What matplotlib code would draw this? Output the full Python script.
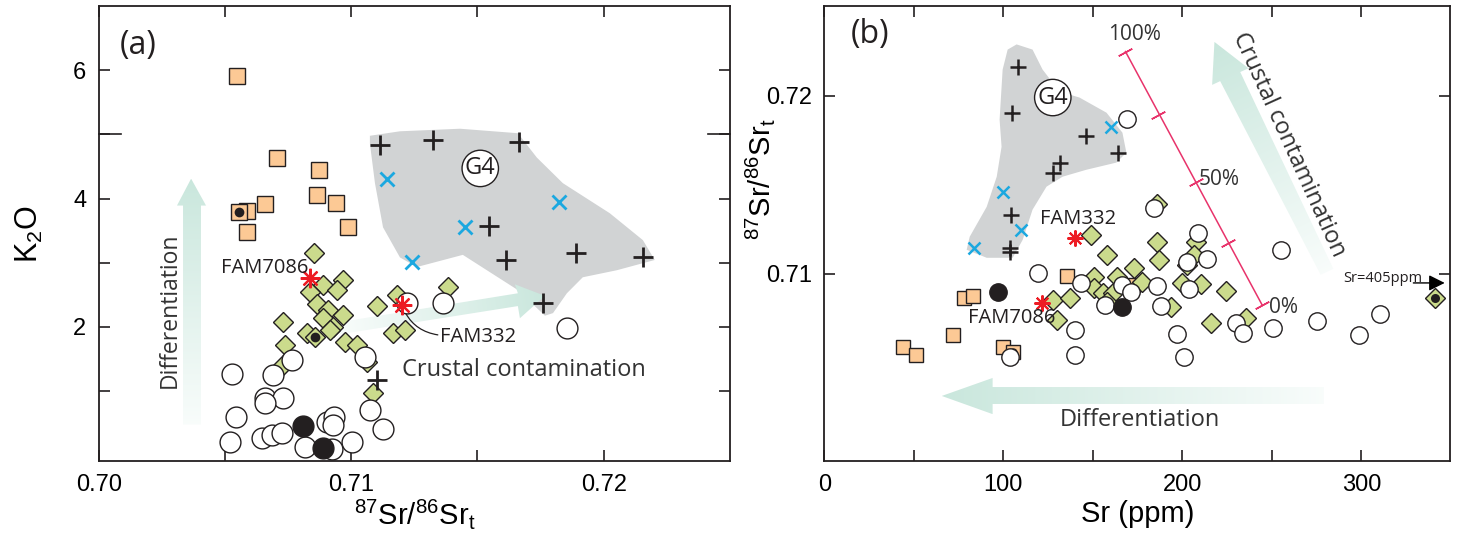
import numpy as np
import matplotlib
matplotlib.use('Agg')
import matplotlib.pyplot as plt
from matplotlib.patches import Polygon
import matplotlib.transforms as mtransforms

plt.rcParams['mathtext.fontset'] = 'custom'
plt.rcParams['mathtext.rm'] = 'Liberation Sans'
plt.rcParams['mathtext.it'] = 'Liberation Sans:italic'
plt.rcParams['mathtext.bf'] = 'Liberation Sans:bold'

AX_FONT = ['Liberation Sans', 'DejaVu Sans']
TXT_FONT = ['Open Sans', 'DejaVu Sans']

# ---------------- Panel (a): K2O vs 87Sr/86Sr_t ----------------
a_sq_x = [0.70548, 0.70706, 0.70872, 0.70864, 0.70939, 0.70987, 0.70659, 0.70587, 0.70555, 0.70587]
a_sq_y = [5.92, 4.64, 4.44, 4.05, 3.93, 3.55, 3.91, 3.80, 3.79, 3.47]
a_sqdot_x = [0.70555]
a_sqdot_y = [3.79]

a_dia_x = [0.70853, 0.70888, 0.70967, 0.70943, 0.70837, 0.70864, 0.70908, 0.70967, 0.70888,
           0.70928, 0.70916, 0.70825, 0.70856, 0.70730, 0.70738, 0.70975, 0.71023, 0.71102,
           0.71062, 0.70730, 0.71086, 0.71181, 0.71165, 0.71213, 0.71383]
a_dia_y = [3.15, 2.65, 2.73, 2.57, 2.54, 2.35, 2.26, 2.18, 2.13, 1.99, 1.95, 1.90, 1.84, 2.07,
           1.71, 1.76, 1.71, 2.32, 1.45, 1.40, 0.97, 2.49, 1.90, 1.95, 2.62]
a_diadot_x = [0.70856]
a_diadot_y = [1.84]

a_cir_x = [0.70765, 0.70528, 0.70690, 0.71054, 0.70658, 0.70730, 0.70658, 0.70544, 0.71074,
           0.71126, 0.70520, 0.70646, 0.70686, 0.70725, 0.70904, 0.70932, 0.70928, 0.71003,
           0.70817, 0.70924, 0.71220, 0.71363, 0.71854]
a_cir_y = [1.48, 1.26, 1.25, 1.53, 0.89, 0.89, 0.81, 0.58, 0.70, 0.40, 0.20, 0.26, 0.31, 0.34,
           0.51, 0.59, 0.47, 0.19, 0.12, 0.08, 2.37, 2.37, 1.98]

a_blk_x = [0.70809, 0.70888]
a_blk_y = [0.44, 0.11]

a_plus_x = [0.71114, 0.71324, 0.71665, 0.71545, 0.71612, 0.71890, 0.72155, 0.71759, 0.71102]
a_plus_y = [4.83, 4.91, 4.88, 3.57, 3.04, 3.15, 3.08, 2.37, 1.17]

a_x_x = [0.71141, 0.71450, 0.71240, 0.71822]
a_x_y = [4.31, 3.55, 3.01, 3.94]

a_star_x = [0.70837, 0.71201]
a_star_y = [2.76, 2.34]
a_star_lab = ['FAM7086', 'FAM332']

a_g4_x = [0.71074, 0.71193, 0.71431, 0.71660, 0.71735, 0.71838, 0.72024, 0.72155, 0.72202,
          0.72052, 0.71917, 0.71854, 0.71799, 0.71767, 0.71660, 0.71442, 0.71260, 0.71193,
          0.71126, 0.71094, 0.71074]
a_g4_y = [4.98, 5.05, 5.09, 5.02, 4.64, 4.24, 3.77, 3.35, 3.04, 2.88, 2.77, 2.52, 2.21, 2.17,
          2.57, 3.12, 2.93, 3.08, 3.55, 4.24, 4.86]

a_xticks = [0.70, 0.71, 0.72]
a_xtick_labels = ['0.70', '0.71', '0.72']
a_xminor = [0.705, 0.715]
a_yticks = [2, 4, 6]
a_yminor = [1, 3, 5]

# ---------------- Panel (b): 87Sr/86Sr_t vs Sr ----------------
b_sq_x = [77.9, 82.9, 71.7, 43.8, 51.1, 99.6, 105.2, 135.8, 172.6]
b_sq_y = [0.70865, 0.70876, 0.70657, 0.70590, 0.70545, 0.70590, 0.70562, 0.70989, 0.70938]
b_sqdot_x = [105.2]
b_sqdot_y = [0.70562]

b_dia_x = [185.9, 149.2, 158.1, 185.9, 187.0, 207.8, 206.7, 202.8, 173.2, 150.9, 163.7, 177.7,
           200.0, 210.5, 224.5, 150.9, 155.4, 161.0, 158.1, 127.5, 137.0, 129.7, 193.8, 216.1,
           235.6, 341.1]
b_dia_y = [0.71393, 0.71219, 0.71107, 0.71180, 0.71079, 0.71180, 0.71107, 0.71051, 0.71034,
           0.70983, 0.70983, 0.70955, 0.70949, 0.70944, 0.70904, 0.70921, 0.70893, 0.70893,
           0.70843, 0.70854, 0.70865, 0.70742, 0.70815, 0.70725, 0.70753, 0.70865]
b_diadot_x = [341.1]
b_diadot_y = [0.70865]

b_cir_x = [184.3, 208.8, 213.8, 202.7, 255.0, 119.1, 143.6, 166.5, 171.5, 186.0, 203.8, 156.5,
           188.3, 139.8, 197.2, 229.9, 233.8, 250.6, 275.1, 298.5, 310.2, 139.8, 201.1, 103.5,
           169.3]
b_cir_y = [0.71371, 0.71230, 0.71084, 0.71067, 0.71135, 0.71006, 0.70949, 0.70938, 0.70899,
           0.70933, 0.70916, 0.70826, 0.70820, 0.70685, 0.70663, 0.70725, 0.70669, 0.70697,
           0.70736, 0.70657, 0.70775, 0.70545, 0.70534, 0.70534, 0.71871]

b_blk_x = [96.9, 166.0]
b_blk_y = [0.70899, 0.70815]

b_plus_x = [108.0, 104.6, 146.4, 163.8, 131.9, 127.5, 104.1, 103.5, 103.5]
b_plus_y = [0.72163, 0.71904, 0.71775, 0.71680, 0.71624, 0.71567, 0.71331, 0.71146, 0.71124]

b_x_x = [160.3, 99.6, 109.6, 83.4]
b_x_y = [0.71826, 0.71461, 0.71247, 0.71146]

b_star_x = [139.8, 121.4]
b_star_y = [0.71202, 0.70837]

b_g4_x = [107.4, 116.3, 121.9, 131.4, 142.5, 157.6, 166.5, 168.7, 163.1, 146.4, 133.1, 124.1,
          116.3, 110.8, 105.2, 90.7, 79.5, 81.2, 90.7, 96.3, 99.0, 97.9, 99.6, 102.4]
b_g4_y = [0.72287, 0.72258, 0.72146, 0.72022, 0.71989, 0.71904, 0.71792, 0.71680, 0.71624,
          0.71584, 0.71545, 0.71489, 0.71360, 0.71191, 0.71090, 0.71090, 0.71135, 0.71208,
          0.71376, 0.71545, 0.71713, 0.71865, 0.72146, 0.72258]

# mixing line ticks (100%, 75%, 50%, 25%, 0%)
b_mix_x = [168.2, 186.6, 207.8, 225.6, 244.5]
b_mix_y = [0.72247, 0.71893, 0.71517, 0.71174, 0.70826]

b_xticks = [0, 100, 200, 300]
b_xminor = [50, 150, 250, 350]
b_yticks = [0.71, 0.72]
b_ytick_labels = ['0.71', '0.72']

# ---------------- colours ----------------
C_SQ = '#FCC995'
C_DIA = '#CBDB8C'
C_EDGE = '#231F20'
C_BLK = '#231F20'
C_RED = '#ED1C24'
C_CYAN = '#1BA8E0'
C_G4 = '#D1D3D4'
C_PINK = '#E8336B'
C_HEAD = (0.79, 0.905, 0.865)
C_TAIL = (0.975, 0.99, 0.985)
C_TXT = '#333333'

fig = plt.figure(figsize=(14.6, 5.37), dpi=100)
axa = fig.add_axes([0.0676, 0.1415, 0.4324, 0.8465])
axb = fig.add_axes([0.5646, 0.1415, 0.4286, 0.8465])

axa.set_xlim(0.70, 0.725)
axa.set_ylim(-0.1, 7.0)
axb.set_xlim(0, 349.5)
axb.set_ylim(0.6995, 0.725)


def gradient_arrow(ax, xs, ys, tail, head, z=1.5):
    poly = Polygon(np.column_stack([xs, ys]), closed=True, facecolor='none',
                   edgecolor='none', transform=ax.transData)
    ax.add_patch(poly)
    x0, x1 = min(xs), max(xs)
    y0, y1 = min(ys), max(ys)
    n = 200
    GX, GY = np.meshgrid(np.linspace(x0, x1, n), np.linspace(y0, y1, n))
    pts = ax.transData.transform(np.column_stack([GX.ravel(), GY.ravel()])).reshape(n, n, 2)
    t0 = ax.transData.transform(tail)
    h0 = ax.transData.transform(head)
    d = h0 - t0
    t = np.clip(((pts - t0) @ d) / (d @ d), 0, 1)[..., None]
    col = np.array(C_TAIL)[None, None, :] * (1 - t) + np.array(C_HEAD)[None, None, :] * t
    im = ax.imshow(col, extent=(x0, x1, y0, y1), origin='lower', aspect='auto',
                   zorder=z, interpolation='bilinear')
    im.set_clip_path(poly)


def style_axes(ax):
    for s in ax.spines.values():
        s.set_linewidth(1.3)
        s.set_color(C_EDGE)
    ax.tick_params(which='both', direction='in', top=True, right=True, length=8,
                   width=1.2, color=C_EDGE, labelsize=17, pad=9)
    for lab in ax.get_xticklabels() + ax.get_yticklabels():
        lab.set_family(AX_FONT)


SR_LABEL = r'$^{87}$Sr/$^{86}$Sr$_{\rm t}$'

# ---------------- draw panel (a) ----------------
ax = axa
ax.add_patch(Polygon(np.column_stack([a_g4_x, a_g4_y]), closed=True, facecolor=C_G4,
                     edgecolor='none', zorder=1))
gradient_arrow(ax, [0.70334, 0.70334, 0.70310, 0.70366, 0.70425, 0.70405, 0.70405],
               [0.47, 3.89, 3.89, 4.31, 3.89, 3.89, 0.47], (0.70366, 0.47), (0.70366, 4.31))
gradient_arrow(ax, [0.70955, 0.71660, 0.71648, 0.71767, 0.71668, 0.71660, 0.70955],
               [2.07, 2.52, 2.66, 2.48, 2.13, 2.32, 1.88], (0.70955, 1.98), (0.71767, 2.48))

ax.plot(a_sq_x, a_sq_y, 's', ms=11.5, mfc=C_SQ, mec=C_EDGE, mew=1.0, zorder=3)
ax.plot(a_sqdot_x, a_sqdot_y, 'o', ms=7, mfc=C_BLK, mec='none', zorder=3.1)
ax.plot(a_dia_x, a_dia_y, 'D', ms=9.8, mfc=C_DIA, mec=C_EDGE, mew=1.0, zorder=3.2)
ax.plot(a_diadot_x, a_diadot_y, 'o', ms=7, mfc=C_BLK, mec='none', zorder=3.3)
ax.plot(a_cir_x, a_cir_y, 'o', ms=15, mfc='white', mec=C_EDGE, mew=1.0, zorder=3.4)
ax.plot(a_blk_x, a_blk_y, 'o', ms=15, mfc=C_BLK, mec=C_EDGE, mew=1.0, zorder=3.6)
ax.plot(a_plus_x, a_plus_y, '+', ms=14, mec=C_EDGE, mew=2.0, zorder=4)
ax.plot(a_x_x, a_x_y, 'x', ms=9.5, mec=C_CYAN, mew=2.0, zorder=4)
ax.plot(a_star_x, a_star_y, marker=(8, 2, 0), ls='none', ms=14, mec=C_RED, mew=1.6, zorder=4.5)

ax.text(0.70156, 6.39, '(a)', fontsize=23, family=TXT_FONT, color=C_EDGE, ha='center', va='center')
ax.text(0.71511, 4.47, 'G4', fontsize=17, family=TXT_FONT, color=C_EDGE, ha='center', va='center',
        zorder=6, bbox=dict(boxstyle='circle,pad=0.12', fc='white', ec=C_EDGE, lw=1.0))
ax.text(0.70659, 2.91, a_star_lab[0], fontsize=14.5, family=TXT_FONT, color=C_EDGE,
        ha='center', va='center', zorder=6)
ax.text(0.71502, 1.84, a_star_lab[1], fontsize=14.5, family=TXT_FONT, color=C_EDGE,
        ha='center', va='center', zorder=6)
ax.annotate('', xy=(a_star_x[1], a_star_y[1]), xytext=(0.71343, 1.87),
            arrowprops=dict(arrowstyle='-', color=C_EDGE, lw=0.9, shrinkA=0, shrinkB=7,
                            connectionstyle='arc3,rad=-0.3'), zorder=5)
ax.text(0.71685, 1.32, 'Crustal contamination', fontsize=17, family=TXT_FONT, color=C_TXT,
        ha='center', va='center', zorder=6)
ax.text(0.70283, 2.26, 'Differentiation', fontsize=16.5, family=TXT_FONT, color=C_TXT,
        ha='center', va='center', rotation=90, zorder=6)

ax.set_xticks(a_xticks)
ax.set_xticklabels(a_xtick_labels)
ax.set_xticks(a_xminor, minor=True)
ax.set_yticks(a_yticks)
ax.set_yticks(a_yminor, minor=True)
style_axes(ax)
trans = mtransforms.blended_transform_factory(ax.transAxes, ax.transData)
ax.plot([0, 0.035], [5, 5], color=C_EDGE, lw=1.2, transform=trans, clip_on=False, zorder=6)
ax.plot([0.965, 1], [5, 5], color=C_EDGE, lw=1.2, transform=trans, clip_on=False, zorder=6)
ax.set_xlabel(SR_LABEL, fontsize=21, family=AX_FONT, labelpad=1)
ax.set_ylabel(r'K$_2$O', fontsize=22, family=AX_FONT, labelpad=20)
ax.set_xlim(0.70, 0.725)
ax.set_ylim(-0.1, 7.0)

# ---------------- draw panel (b) ----------------
ax = axb
ax.add_patch(Polygon(np.column_stack([b_g4_x, b_g4_y]), closed=True, facecolor=C_G4,
                     edgecolor='none', zorder=1))
gradient_arrow(ax, [279, 94, 94, 65.6, 94, 94, 279],
               [0.70365, 0.70365, 0.70416, 0.70315, 0.70213, 0.70270, 0.70270],
               (279, 0.70315), (65.6, 0.70315))
gradient_arrow(ax, [277.2, 221.1, 216.6, 217.9, 236.9, 232.3, 284.3],
               [0.70995, 0.72081, 0.72060, 0.72301, 0.72153, 0.72132, 0.71028],
               (280.7, 0.71012), (217.9, 0.72301))
ax.plot([b_mix_x[0], b_mix_x[-1]], [b_mix_y[0], b_mix_y[-1]], color=C_PINK, lw=1.1, zorder=2)
ax.plot(b_mix_x, b_mix_y, ls='none', marker=(2, 2, -61.6), ms=11, mec=C_PINK, mew=1.1, zorder=2)
ax.text(173.3, 0.72343, '100%', fontsize=15, family=TXT_FONT, color=C_TXT, ha='center', va='center')
ax.text(220.5, 0.71528, '50%', fontsize=15, family=TXT_FONT, color=C_TXT, ha='center', va='center')
ax.text(256.5, 0.70809, '0%', fontsize=15, family=TXT_FONT, color=C_TXT, ha='center', va='center')

ax.plot(b_sq_x, b_sq_y, 's', ms=9.6, mfc=C_SQ, mec=C_EDGE, mew=1.0, zorder=3)
ax.plot(b_sqdot_x, b_sqdot_y, 'o', ms=6, mfc=C_BLK, mec='none', zorder=3.1)
ax.plot(b_dia_x, b_dia_y, 'D', ms=10, mfc=C_DIA, mec=C_EDGE, mew=1.0, zorder=3.2)
ax.plot(b_diadot_x, b_diadot_y, 'o', ms=6.5, mfc=C_BLK, mec='none', zorder=3.3)
ax.plot(b_cir_x, b_cir_y, 'o', ms=12.5, mfc='white', mec=C_EDGE, mew=1.0, zorder=3.4)
ax.plot(b_blk_x, b_blk_y, 'o', ms=12.5, mfc=C_BLK, mec=C_EDGE, mew=1.0, zorder=3.6)
ax.plot(b_plus_x, b_plus_y, '+', ms=11, mec=C_EDGE, mew=1.8, zorder=4)
ax.plot(b_x_x, b_x_y, 'x', ms=8.5, mec=C_CYAN, mew=1.8, zorder=4)
ax.plot(b_star_x, b_star_y, marker=(8, 2, 0), ls='none', ms=11.5, mec=C_RED, mew=1.5, zorder=4.5)

ax.text(25.5, 0.72343, '(b)', fontsize=23, family=TXT_FONT, color=C_EDGE, ha='center', va='center')
ax.text(127.6, 0.71989, 'G4', fontsize=17, family=TXT_FONT, color=C_EDGE, ha='center', va='center',
        zorder=6, bbox=dict(boxstyle='circle,pad=0.12', fc='white', ec=C_EDGE, lw=1.0))
ax.text(141.6, 0.71309, a_star_lab[1], fontsize=14.5, family=TXT_FONT, color=C_EDGE,
        ha='center', va='center', zorder=6)
ax.text(104.6, 0.70753, a_star_lab[0], fontsize=14.5, family=TXT_FONT, color=C_EDGE,
        ha='center', va='center', zorder=6)
ax.text(176, 0.7018, 'Differentiation', fontsize=17, family=TXT_FONT, color=C_TXT,
        ha='center', va='center', zorder=6)
ax.text(259.6, 0.71725, 'Crustal contamination', fontsize=17, family=TXT_FONT, color=C_TXT,
        ha='center', va='center', rotation=-65.6, rotation_mode='anchor', zorder=6)
ax.text(311.9, 0.70972, 'Sr=405ppm', fontsize=10.5, family=TXT_FONT, color=C_EDGE,
        ha='center', va='center', zorder=6)
ax.annotate('', xy=(346.5, 0.70949), xytext=(329, 0.70949),
            arrowprops=dict(arrowstyle='-|>', color='black', lw=1.0, mutation_scale=24,
                            shrinkA=0, shrinkB=0), zorder=6)

ax.set_xticks(b_xticks)
ax.set_xticks(b_xminor, minor=True)
ax.set_yticks(b_yticks)
ax.set_yticklabels(b_ytick_labels)
style_axes(ax)
ax.set_xlabel('Sr (ppm)', fontsize=21, family=AX_FONT, labelpad=3)
ax.set_ylabel(SR_LABEL, fontsize=21, family=AX_FONT)
ax.yaxis.set_label_coords(-0.075, 0.62)
ax.set_xlim(0, 349.5)
ax.set_ylim(0.6995, 0.725)

fig.savefig('out.png', dpi=100)
